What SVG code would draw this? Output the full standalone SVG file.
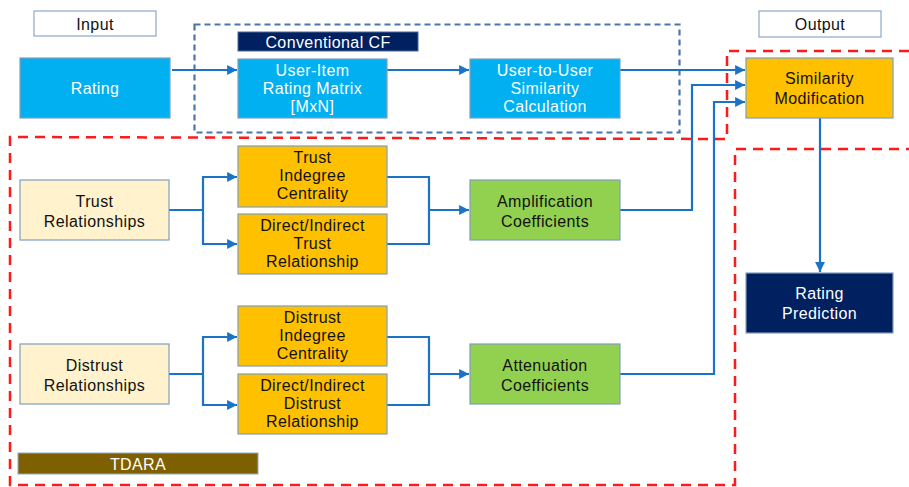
<svg xmlns="http://www.w3.org/2000/svg" width="909" height="487" viewBox="0 0 909 487">
<style>
  text { font-family: "Liberation Sans", Arial, sans-serif; font-size: 16px; letter-spacing: 0.4px; text-anchor: middle; }
  .wt { fill: #ffffff; }
  .bk { fill: #111111; }
  .box { stroke: #7f9fbf; stroke-width: 1.2; }
  .blue { fill: #00b0f0; }
  .gold { fill: #ffc000; }
  .cream { fill: #fff2cc; }
  .green { fill: #92d050; }
  .navy { fill: #002060; }
  .lbl { fill: #ffffff; stroke: #8ea9c8; stroke-width: 1.2; }
  .conn path { fill: none; stroke: #1a73c6; stroke-width: 2.2; }
  .reddash { fill: none; stroke: #ff1a1a; stroke-width: 2.5; stroke-dasharray: 10 7; }
  .bluedash { fill: none; stroke: #4a76a8; stroke-width: 2.2; stroke-dasharray: 6 4; }
</style>
<defs>
  <marker id="ah" viewBox="0 0 10 10" refX="10" refY="5" markerWidth="4.5" markerHeight="4.5" orient="auto" markerUnits="strokeWidth">
    <path d="M0,0 L10,5 L0,10 z" fill="#1a73c6"/>
  </marker>
</defs>
<rect width="909" height="487" fill="#ffffff"/>

<!-- region outlines -->
<rect class="bluedash" x="194.5" y="24.5" width="485" height="108"/>
<path class="reddash" d="M909,51 L727,51 L727,139 L10,137 L10,485 L735,485 L735,149 L909,149"/>

<g id="input-label"><rect class="lbl" x="34" y="11" width="122" height="25"/><text class="bk" x="95" y="29.5">Input</text></g>
<g id="output-label"><rect class="lbl" x="759" y="11" width="122" height="26"/><text class="bk" x="820" y="29.5">Output</text></g>
<g id="conventional-cf"><rect class="navy" x="238" y="32" width="180" height="19" stroke="#4a6a9a" stroke-width="1"/><text class="wt" x="328" y="47.5">Conventional CF</text></g>
<g id="tdara"><rect x="18" y="453" width="240" height="21" fill="#7f6000" stroke="#8ea9c8" stroke-width="1"/><text class="wt" x="138" y="469.5">TDARA</text></g>

<g class="conn" id="connectors">
  <path d="M172,70 H237" marker-end="url(#ah)"/>
  <path d="M387,70 H469" marker-end="url(#ah)"/>
  <path d="M620,70 H745" marker-end="url(#ah)"/>
  <path d="M620,210 H692 V85 H745" marker-end="url(#ah)"/>
  <path d="M620,374 H714 V102 H745" marker-end="url(#ah)"/>
  <path d="M820,118 V272" marker-end="url(#ah)"/>
  <path d="M169,210 H203"/>
  <path d="M237,177 H203 V244 H237" marker-end="url(#ah)"/>
  <path d="M203,177 H237" marker-end="url(#ah)"/>
  <path d="M387,177 H429 V244 H387"/>
  <path d="M429,210 H469" marker-end="url(#ah)"/>
  <path d="M169,374 H203"/>
  <path d="M237,337 H203 V405 H237" marker-end="url(#ah)"/>
  <path d="M203,337 H237" marker-end="url(#ah)"/>
  <path d="M387,337 H429 V405 H387"/>
  <path d="M429,374 H469" marker-end="url(#ah)"/>
</g>

<g id="rating"><rect class="box blue" x="20" y="58" width="150" height="60"/><text class="wt" x="95" y="94">Rating</text></g>
<g id="user-item"><rect class="box blue" x="238" y="59" width="149" height="59"/><text class="wt" x="312.5" y="76">User-Item</text><text class="wt" x="312.5" y="94">Rating Matrix</text><text class="wt" x="312.5" y="112">[MxN]</text></g>
<g id="user-to-user"><rect class="box blue" x="470" y="59" width="150" height="59"/><text class="wt" x="545" y="76">User-to-User</text><text class="wt" x="545" y="94">Similarity</text><text class="wt" x="545" y="112">Calculation</text></g>
<g id="similarity-modification"><rect class="box gold" x="746" y="58" width="147" height="60"/><text class="bk" x="819.5" y="84">Similarity</text><text class="bk" x="819.5" y="104">Modification</text></g>
<g id="rating-prediction"><rect class="box navy" x="746" y="273" width="147" height="60"/><text class="wt" x="819.5" y="299">Rating</text><text class="wt" x="819.5" y="319">Prediction</text></g>

<g id="trust-relationships"><rect class="box cream" x="20" y="180" width="149" height="60"/><text class="bk" x="94.5" y="207">Trust</text><text class="bk" x="94.5" y="227">Relationships</text></g>
<g id="trust-indegree"><rect class="box gold" x="238" y="146" width="149" height="61"/><text class="bk" x="312.5" y="163">Trust</text><text class="bk" x="312.5" y="181">Indegree</text><text class="bk" x="312.5" y="199">Centrality</text></g>
<g id="direct-indirect-trust"><rect class="box gold" x="238" y="214" width="149" height="60"/><text class="bk" x="312.5" y="231">Direct/Indirect</text><text class="bk" x="312.5" y="249">Trust</text><text class="bk" x="312.5" y="267">Relationship</text></g>
<g id="amplification"><rect class="box green" x="470" y="180" width="150" height="60"/><text class="bk" x="545" y="207">Amplification</text><text class="bk" x="545" y="227">Coefficients</text></g>

<g id="distrust-relationships"><rect class="box cream" x="20" y="344" width="149" height="60"/><text class="bk" x="94.5" y="371">Distrust</text><text class="bk" x="94.5" y="391">Relationships</text></g>
<g id="distrust-indegree"><rect class="box gold" x="238" y="306" width="149" height="60"/><text class="bk" x="312.5" y="323">Distrust</text><text class="bk" x="312.5" y="341">Indegree</text><text class="bk" x="312.5" y="359">Centrality</text></g>
<g id="direct-indirect-distrust"><rect class="box gold" x="238" y="374" width="149" height="60"/><text class="bk" x="312.5" y="391">Direct/Indirect</text><text class="bk" x="312.5" y="409">Distrust</text><text class="bk" x="312.5" y="427">Relationship</text></g>
<g id="attenuation"><rect class="box green" x="470" y="344" width="150" height="60"/><text class="bk" x="545" y="371">Attenuation</text><text class="bk" x="545" y="391">Coefficients</text></g>
</svg>
